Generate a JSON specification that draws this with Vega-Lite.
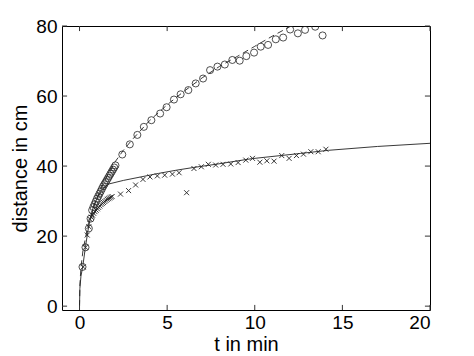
{
  "$schema": "https://vega.github.io/schema/vega-lite/v6.json",
  "width": 368,
  "height": 284,
  "autosize": "none",
  "padding": {"left": 62, "top": 26, "right": 44, "bottom": 46},
  "background": "white",
  "config": {
    "view": {"stroke": "#000", "strokeWidth": 1},
    "axis": {
      "labelFont": "Liberation Sans", "titleFont": "Liberation Sans",
      "labelFontSize": 19, "titleFontSize": 20, "titleFontWeight": "normal",
      "labelColor": "#000", "titleColor": "#000",
      "grid": false, "domain": false, "ticks": false
    }
  },
  "datasets": {
    "xticks": [{"v": 0}, {"v": 5}, {"v": 10}, {"v": 15}, {"v": 20}],
    "yticks": [{"v": 0}, {"v": 20}, {"v": 40}, {"v": 60}, {"v": 80}],
    "circles": [
      {"t": 0.17, "d": 11.2}, {"t": 0.34, "d": 16.8}, {"t": 0.53, "d": 22.2}, {"t": 0.63, "d": 25.0},
      {"t": 0.72, "d": 27.4}, {"t": 0.79, "d": 28.3}, {"t": 0.86, "d": 29.1}, {"t": 0.93, "d": 29.9},
      {"t": 1.0, "d": 30.7}, {"t": 1.07, "d": 31.4}, {"t": 1.14, "d": 32.1}, {"t": 1.21, "d": 32.8},
      {"t": 1.28, "d": 33.5}, {"t": 1.35, "d": 34.2}, {"t": 1.42, "d": 34.8}, {"t": 1.49, "d": 35.4},
      {"t": 1.56, "d": 36.0}, {"t": 1.63, "d": 36.6}, {"t": 1.7, "d": 37.2}, {"t": 1.77, "d": 37.8},
      {"t": 1.84, "d": 38.4}, {"t": 1.91, "d": 39.0}, {"t": 1.98, "d": 39.6}, {"t": 2.05, "d": 40.2},
      {"t": 2.44, "d": 43.3}, {"t": 2.87, "d": 46.2}, {"t": 3.3, "d": 48.9}, {"t": 3.67, "d": 51.2},
      {"t": 4.1, "d": 53.1}, {"t": 4.6, "d": 55.0}, {"t": 4.97, "d": 56.8}, {"t": 5.39, "d": 59.0},
      {"t": 5.77, "d": 60.5}, {"t": 6.21, "d": 61.7}, {"t": 6.63, "d": 63.6}, {"t": 7.05, "d": 65.0},
      {"t": 7.45, "d": 67.4}, {"t": 7.87, "d": 68.4}, {"t": 8.29, "d": 69.0}, {"t": 8.72, "d": 70.3},
      {"t": 9.14, "d": 70.1}, {"t": 9.52, "d": 71.4}, {"t": 9.96, "d": 72.4}, {"t": 10.34, "d": 74.1},
      {"t": 10.76, "d": 74.6}, {"t": 11.2, "d": 76.2}, {"t": 11.62, "d": 76.7}, {"t": 12.02, "d": 79.0},
      {"t": 12.46, "d": 77.9}, {"t": 12.87, "d": 78.9}, {"t": 13.45, "d": 79.8}, {"t": 13.87, "d": 77.3}
    ],
    "crosses": [
      {"t": 0.21, "d": 11.2}, {"t": 0.34, "d": 16.8}, {"t": 0.44, "d": 20.3}, {"t": 0.53, "d": 22.7},
      {"t": 0.6, "d": 24.8}, {"t": 0.67, "d": 25.4}, {"t": 0.74, "d": 26.0}, {"t": 0.81, "d": 26.5},
      {"t": 0.88, "d": 27.0}, {"t": 0.95, "d": 27.4}, {"t": 1.02, "d": 27.8}, {"t": 1.09, "d": 28.2},
      {"t": 1.16, "d": 28.6}, {"t": 1.23, "d": 29.0}, {"t": 1.3, "d": 29.3}, {"t": 1.37, "d": 29.6},
      {"t": 1.44, "d": 29.9}, {"t": 1.51, "d": 30.2}, {"t": 1.58, "d": 30.5}, {"t": 1.65, "d": 30.7},
      {"t": 1.72, "d": 30.9}, {"t": 1.79, "d": 31.1}, {"t": 1.86, "d": 31.3},
      {"t": 2.34, "d": 32.0}, {"t": 2.8, "d": 33.0}, {"t": 3.2, "d": 34.6}, {"t": 3.62, "d": 36.2},
      {"t": 4.02, "d": 36.9}, {"t": 4.44, "d": 37.2}, {"t": 4.86, "d": 37.4}, {"t": 5.3, "d": 37.7},
      {"t": 5.68, "d": 38.1}, {"t": 6.11, "d": 32.4}, {"t": 6.53, "d": 39.3}, {"t": 6.95, "d": 39.8},
      {"t": 7.35, "d": 40.5}, {"t": 7.77, "d": 40.3}, {"t": 8.19, "d": 40.5}, {"t": 8.63, "d": 40.6},
      {"t": 9.05, "d": 41.0}, {"t": 9.49, "d": 41.7}, {"t": 9.87, "d": 42.2}, {"t": 10.29, "d": 41.1},
      {"t": 10.69, "d": 41.5}, {"t": 11.1, "d": 41.4}, {"t": 11.54, "d": 43.0}, {"t": 11.96, "d": 42.2},
      {"t": 12.38, "d": 43.0}, {"t": 12.78, "d": 43.4}, {"t": 13.2, "d": 44.1}, {"t": 13.62, "d": 44.1},
      {"t": 14.06, "d": 44.8}
    ],
    "dashed": [
      {"t": 0, "d": 0}, {"t": 0.02, "d": 6}, {"t": 0.08, "d": 11}, {"t": 0.2, "d": 16},
      {"t": 0.5, "d": 23.5}, {"t": 1.0, "d": 31}, {"t": 1.5, "d": 36.5}, {"t": 2.0, "d": 41},
      {"t": 2.5, "d": 44.5}, {"t": 3.0, "d": 47.5}, {"t": 4.0, "d": 53}, {"t": 5.0, "d": 57.5},
      {"t": 6.0, "d": 61.5}, {"t": 7.0, "d": 65.2}, {"t": 8.0, "d": 68.5}, {"t": 9.0, "d": 71.3},
      {"t": 10.0, "d": 74.2}, {"t": 11.0, "d": 77.1}, {"t": 12.0, "d": 79.8}, {"t": 12.5, "d": 81}
    ],
    "solid": [
      {"t": 0, "d": 0}, {"t": 0.02, "d": 5}, {"t": 0.08, "d": 8.5}, {"t": 0.19, "d": 11.5},
      {"t": 0.34, "d": 17}, {"t": 0.53, "d": 23}, {"t": 0.82, "d": 29}, {"t": 1.2, "d": 32.6},
      {"t": 1.6, "d": 34.8}, {"t": 2.5, "d": 35.9}, {"t": 3.5, "d": 36.9}, {"t": 4.5, "d": 37.9},
      {"t": 5.5, "d": 38.8}, {"t": 6.5, "d": 39.6}, {"t": 7.9, "d": 40.6}, {"t": 9.8, "d": 42.1},
      {"t": 12.6, "d": 43.6}, {"t": 14.2, "d": 44.5}, {"t": 17.0, "d": 45.6}, {"t": 20.0, "d": 46.5}
    ]
  },
  "layer": [
    {
      "data": {"name": "solid"},
      "mark": {"type": "line", "color": "#222", "strokeWidth": 0.9, "clip": true},
      "encoding": {
        "x": {"field": "t", "type": "quantitative", "scale": {"domain": [-1, 20], "nice": false, "zero": false},
          "axis": {"title": "t in min", "values": [0, 5, 10, 15, 20], "labelPadding": 3, "titlePadding": 2}},
        "y": {"field": "d", "type": "quantitative", "scale": {"domain": [-1.1, 80], "nice": false, "zero": false},
          "axis": {"title": "distance in cm", "values": [0, 20, 40, 60, 80], "labelPadding": 5, "titlePadding": 5}}
      }
    },
    {
      "data": {"name": "dashed"},
      "mark": {"type": "line", "color": "#222", "strokeWidth": 0.9, "strokeDash": [6, 4], "clip": true},
      "encoding": {
        "x": {"field": "t", "type": "quantitative", "axis": null},
        "y": {"field": "d", "type": "quantitative", "axis": null}
      }
    },
    {
      "data": {"name": "circles"},
      "mark": {"type": "point", "shape": "circle", "filled": false, "color": "#222", "size": 50, "strokeWidth": 0.8, "opacity": 1, "clip": true},
      "encoding": {
        "x": {"field": "t", "type": "quantitative", "axis": null},
        "y": {"field": "d", "type": "quantitative", "axis": null}
      }
    },
    {
      "data": {"name": "crosses"},
      "mark": {"type": "point", "shape": "M-1,-1L1,1M1,-1L-1,1", "filled": false, "color": "#222", "size": 25, "strokeWidth": 0.9, "opacity": 1, "clip": true},
      "encoding": {
        "x": {"field": "t", "type": "quantitative", "axis": null},
        "y": {"field": "d", "type": "quantitative", "axis": null}
      }
    },
    {
      "data": {"name": "xticks"},
      "mark": {"type": "rule", "color": "#333", "strokeWidth": 1},
      "encoding": {
        "x": {"field": "v", "type": "quantitative", "axis": null},
        "y": {"datum": -1.1, "type": "quantitative", "axis": null},
        "y2": {"datum": 0.35}
      }
    },
    {
      "data": {"name": "xticks"},
      "mark": {"type": "rule", "color": "#333", "strokeWidth": 1},
      "encoding": {
        "x": {"field": "v", "type": "quantitative", "axis": null},
        "y": {"datum": 80, "type": "quantitative", "axis": null},
        "y2": {"datum": 78.55}
      }
    },
    {
      "data": {"name": "yticks"},
      "mark": {"type": "rule", "color": "#333", "strokeWidth": 1},
      "encoding": {
        "y": {"field": "v", "type": "quantitative", "axis": null},
        "x": {"datum": -1, "type": "quantitative", "axis": null},
        "x2": {"datum": -0.71}
      }
    },
    {
      "data": {"name": "yticks"},
      "mark": {"type": "rule", "color": "#333", "strokeWidth": 1},
      "encoding": {
        "y": {"field": "v", "type": "quantitative", "axis": null},
        "x": {"datum": 20, "type": "quantitative", "axis": null},
        "x2": {"datum": 19.71}
      }
    }
  ],
  "resolve": {"axis": {"x": "independent", "y": "independent"}}
}
